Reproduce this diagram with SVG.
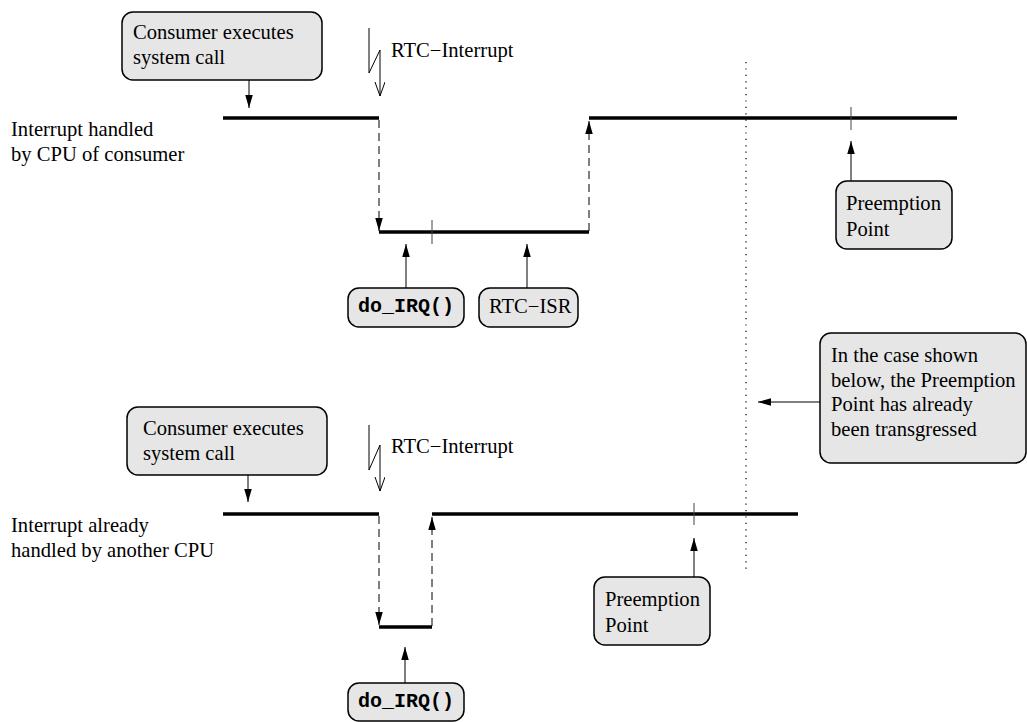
<svg xmlns="http://www.w3.org/2000/svg" width="1027" height="722" viewBox="0 0 1027 722" font-family="'Liberation Serif', 'Times New Roman', Times, Tinos, 'DejaVu Serif', serif">
<defs>
<marker id="ah" markerUnits="userSpaceOnUse" markerWidth="14" markerHeight="8" refX="13" refY="3.75" orient="auto">
<path d="M0,0 L13,3.75 L0,7.5 z" fill="#000"/>
</marker>
<marker id="oh" markerUnits="userSpaceOnUse" markerWidth="16" markerHeight="12" refX="14" refY="5" orient="auto">
<path d="M0,0 L14,5 L0,10" fill="none" stroke="#000" stroke-width="1"/>
</marker>
</defs>
<style>
.t{font-family:'Liberation Serif','Times New Roman',Times,Tinos,'DejaVu Serif',serif;font-size:20.6px;fill:#000}
.mono{font-family:'Liberation Mono','Courier New',Courier,monospace;font-size:20px;font-weight:bold;fill:#000}
.box{fill:#e6e6e6;stroke:#000;stroke-width:1.5}
.thick{stroke:#000;stroke-width:3.5;fill:none}
.arr{stroke:#000;stroke-width:1;fill:none;marker-end:url(#ah)}
.dash{stroke:#000;stroke-width:1;fill:none;stroke-dasharray:8 5;marker-end:url(#ah)}
.tick{stroke:#444;stroke-width:1}
.dot{stroke:#000;stroke-width:1.2;stroke-dasharray:1.2 5.2;fill:none}
.bolt{stroke:#000;stroke-width:1;fill:none;marker-end:url(#oh)}
</style>

<g id="connectors">
<line class="thick" x1="223" y1="118" x2="379" y2="118"/>
<line class="dash" x1="379" y1="120" x2="379" y2="231"/>
<line class="thick" x1="379" y1="232" x2="589" y2="232"/>
<line class="dash" x1="589" y1="231" x2="589" y2="121"/>
<line class="thick" x1="589" y1="118" x2="957" y2="118"/>
<line class="tick" x1="432" y1="220" x2="432" y2="244"/>
<line class="tick" x1="851" y1="107" x2="851" y2="130"/>
<line class="arr" x1="249" y1="80" x2="249" y2="108"/>
<polyline class="bolt" points="369,28 369,73 380,50 380,96"/>
<line class="arr" x1="406" y1="288" x2="406" y2="244"/>
<line class="arr" x1="527" y1="288" x2="527" y2="244"/>
<line class="arr" x1="851" y1="181" x2="851" y2="141"/>
<line class="dot" x1="746" y1="62" x2="746" y2="572"/>
<line class="arr" x1="820" y1="402" x2="758" y2="402"/>
<line class="thick" x1="223" y1="514" x2="379" y2="514"/>
<line class="dash" x1="379" y1="516" x2="379" y2="625"/>
<line class="thick" x1="379" y1="627" x2="432" y2="627"/>
<line class="dash" x1="432" y1="626" x2="432" y2="517"/>
<line class="thick" x1="432" y1="514" x2="798" y2="514"/>
<line class="tick" x1="694" y1="503" x2="694" y2="525"/>
<line class="arr" x1="248" y1="475" x2="248" y2="502"/>
<polyline class="bolt" points="369,425 369,470 380,445 380,491"/>
<line class="arr" x1="405" y1="683" x2="405" y2="647"/>
<line class="arr" x1="694" y1="577" x2="694" y2="538"/>
</g>

<g id="consumer-top">
<rect class="box" x="122" y="12" width="200" height="68" rx="11"/>
<text class="t" x="133" y="39">Consumer executes</text>
<text class="t" x="133" y="64">system call</text>
</g>
<g id="rtc-interrupt-top">
<text class="t" x="391" y="57">RTC−Interrupt</text>
</g>
<g id="label-top">
<text class="t" x="11" y="136">Interrupt handled</text>
<text class="t" x="11" y="161">by CPU of consumer</text>
</g>
<g id="do-irq-top">
<rect class="box" x="348" y="288" width="116" height="39" rx="11"/>
<text class="mono" x="358" y="312">do_IRQ()</text>
</g>
<g id="rtc-isr">
<rect class="box" x="479" y="288" width="99" height="39" rx="11"/>
<text class="t" x="489" y="313">RTC−ISR</text>
</g>
<g id="preemption-top">
<rect class="box" x="836" y="181" width="116" height="68" rx="11"/>
<text class="t" x="846" y="210">Preemption</text>
<text class="t" x="846" y="236">Point</text>
</g>
<g id="note">
<rect class="box" x="820" y="333" width="206" height="130" rx="11"/>
<text class="t" x="831" y="362">In the case shown</text>
<text class="t" x="831" y="387">below, the Preemption</text>
<text class="t" x="831" y="411">Point has already</text>
<text class="t" x="831" y="436">been transgressed</text>
</g>
<g id="consumer-bottom">
<rect class="box" x="127" y="407" width="200" height="68" rx="11"/>
<text class="t" x="143" y="435">Consumer executes</text>
<text class="t" x="143" y="460">system call</text>
</g>
<g id="rtc-interrupt-bottom">
<text class="t" x="391" y="453">RTC−Interrupt</text>
</g>
<g id="label-bottom">
<text class="t" x="11" y="532">Interrupt already</text>
<text class="t" x="11" y="557">handled by another CPU</text>
</g>
<g id="preemption-bottom">
<rect class="box" x="594" y="577" width="116" height="68" rx="11"/>
<text class="t" x="605" y="606">Preemption</text>
<text class="t" x="605" y="632">Point</text>
</g>
<g id="do-irq-bottom">
<rect class="box" x="348" y="683" width="116" height="38" rx="11"/>
<text class="mono" x="358" y="707">do_IRQ()</text>
</g>
</svg>
